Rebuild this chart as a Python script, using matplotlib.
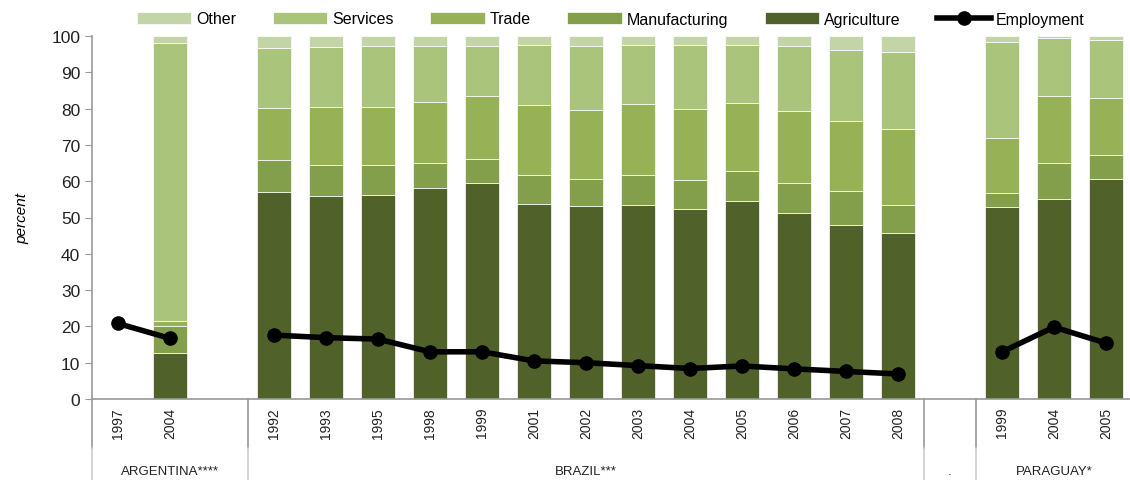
import matplotlib
matplotlib.use('Agg')
import matplotlib.pyplot as plt
import numpy as np

nan = np.nan

# categories (blank entries are the empty slots of the original chart)
years = ['1997', '2004', '',
         '1992', '1993', '1995', '1998', '1999', '2001', '2002', '2003', '2004', '2005', '2006', '2007', '2008',
         '',
         '1999', '2004', '2005']
countries = ['ARGENTINA****'] * 3 + ['BRAZIL***'] * 13 + ['.'] + ['PARAGUAY*'] * 3

agriculture = [nan, 12.7, nan, 57.1, 55.9, 56.3, 58.1, 59.5, 53.7, 53.2, 53.5, 52.4, 54.6, 51.3, 48.0, 45.8, nan, 52.9, 55.1, 60.7]
manufacturing = [nan, 7.5, nan, 8.8, 8.7, 8.3, 6.9, 6.6, 8.0, 7.4, 8.2, 7.8, 8.2, 8.1, 9.3, 7.7, nan, 3.8, 9.8, 6.4]
trade = [nan, 1.2, nan, 14.4, 15.9, 15.9, 16.9, 17.4, 19.3, 19.0, 19.6, 19.7, 18.7, 20.0, 19.3, 20.9, nan, 15.2, 18.5, 15.8]
services = [nan, 76.8, nan, 16.3, 16.4, 16.8, 15.4, 13.8, 16.5, 17.7, 16.2, 17.6, 16.0, 17.9, 19.6, 21.2, nan, 26.5, 16.0, 15.9]
other = [nan, 1.8, nan, 3.4, 3.1, 2.7, 2.7, 2.7, 2.5, 2.7, 2.5, 2.5, 2.5, 2.7, 3.8, 4.4, nan, 1.6, 0.6, 1.2]
employment = [20.8, 16.7, nan, 17.6, 16.9, 16.5, 13.0, 13.0, 10.5, 10.0, 9.2, 8.4, 9.1, 8.3, 7.6, 6.9, nan, 13.0, 19.8, 15.4]

series = [('Other', other, '#c3d4a6'),
          ('Services', services, '#abc47b'),
          ('Trade', trade, '#97b157'),
          ('Manufacturing', manufacturing, '#849f4b'),
          ('Agriculture', agriculture, '#50622a')]

plt.rcParams['font.family'] = ['Liberation Sans', 'DejaVu Sans']

fig = plt.figure(figsize=(11.3, 4.81), dpi=100)
ax = fig.add_axes([92 / 1130, 81 / 481, 1040 / 1130, 363 / 481])

x = np.arange(len(years))
bottom = np.zeros(len(years))
handles = []
# stack from bottom (agriculture) to top (other)
for name, vals, col in series[::-1]:
    v = np.array(vals, dtype=float)
    b = ax.bar(x, np.nan_to_num(v), bottom=bottom, width=0.67, color=col,
               edgecolor='white', linewidth=0.5, label=name)
    bottom = bottom + np.nan_to_num(v)
    handles.append(b)
handles = handles[::-1]

ln, = ax.plot(x, employment, color='black', lw=4, marker='o', ms=9.5,
              label='Employment', zorder=5)
handles.append(ln)

ax.set_xlim(-0.5, len(years) - 0.5)
ax.set_ylim(0, 100)
ax.set_yticks(range(0, 101, 10))
ax.tick_params(axis='y', labelsize=12.5, length=5, color='#999999', labelcolor='#222222')
ax.tick_params(axis='x', bottom=False, labelbottom=False)
for s in ['top', 'right']:
    ax.spines[s].set_visible(False)
ax.spines['left'].set_color('#999999')
ax.spines['bottom'].set_color('#999999')
ax.spines['left'].set_linewidth(1.2)
ax.spines['bottom'].set_linewidth(1.2)
ax.set_ylabel('percent', fontsize=11, style='italic', labelpad=16)

tr = ax.get_xaxis_transform()
for i, yr in enumerate(years):
    if yr:
        ax.text(i, -0.022, yr, rotation=90, ha='center', va='top', fontsize=10,
                color='#222222', transform=tr)

# group labels and separators of the two-level category axis
names = []
for c in countries:
    if c not in names:
        names.append(c)
for c in names:
    idx = [i for i, cc in enumerate(countries) if cc == c]
    ax.text((idx[0] + idx[-1]) / 2, -0.198, c, ha='center', va='center', fontsize=9.5,
            color='#222222', transform=tr)
bounds = [-0.5] + [i + 0.5 for i in range(len(countries) - 1) if countries[i] != countries[i + 1]] + [len(countries) - 0.5]
for bx in bounds:
    ax.plot([bx, bx], [0, -0.135], transform=tr, color='#999999', lw=1.2, clip_on=False)
    ax.plot([bx, bx], [-0.135, -0.25], transform=tr, color='#cccccc', lw=1.2, clip_on=False)

fig.legend(handles=handles, labels=[h.get_label() for h in handles], loc='center',
           bbox_to_anchor=(611 / 1130, 1 - 20 / 481), ncol=6, frameon=False,
           fontsize=11.5, handlelength=3.4, handletextpad=0.3, columnspacing=2.3)

plt.savefig('out.png')
